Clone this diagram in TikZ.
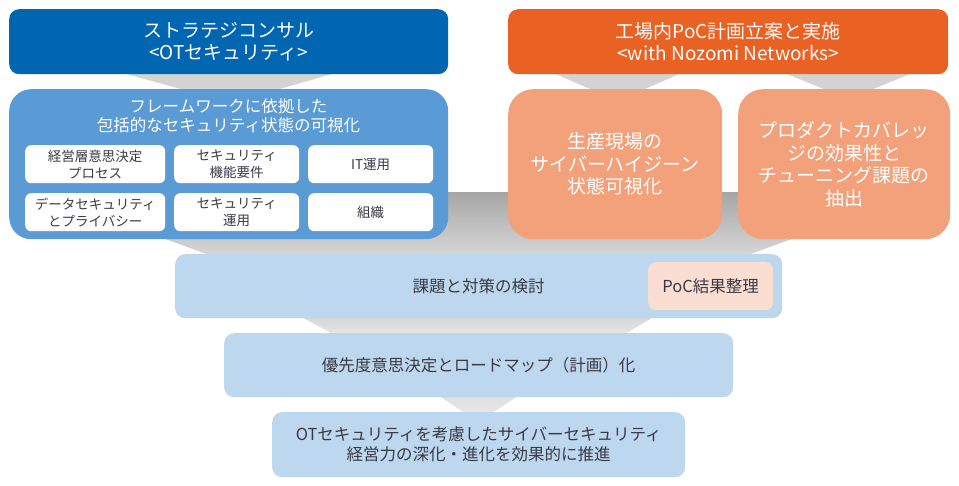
\documentclass[tikz,border=0pt]{standalone}
\usepackage{fontspec}
\setmainfont{Noto Sans CJK JP}
\definecolor{dblue}{RGB}{0,102,178}
\definecolor{hdorange}{RGB}{233,97,35}
\definecolor{mblue}{RGB}{91,155,213}
\definecolor{lorange}{RGB}{243,161,122}
\definecolor{lblue}{RGB}{189,215,238}
\definecolor{peach}{RGB}{250,222,210}
\definecolor{txtdark}{RGB}{58,58,70}
\definecolor{conn}{RGB}{211,211,211}
\begin{document}
\begin{tikzpicture}[x=1pt,y=-1pt,
  box/.style={rectangle, anchor=north west, inner sep=0pt, align=center},
  hdr/.style={box, rounded corners=10pt, text=white, font=\fontsize{19}{22}\selectfont},
  wbox/.style={box, fill=white, rounded corners=6pt, text=txtdark, font=\fontsize{13.5}{17}\selectfont},
  obox/.style={box, fill=lorange, rounded corners=25pt, text=white, font=\fontsize{19}{22.5}\selectfont},
  lbox/.style={box, fill=lblue, rounded corners=10pt, text=txtdark, font=\fontsize{16.5}{20}\selectfont}]
\useasboundingbox (0,0) rectangle (959,485);
% connectors from headers
\fill[conn] (119,72) -- (339,72) -- (269,92) -- (192,92) -- cycle;
\fill[conn] (551,72) -- (684,72) -- (638,92) -- (597,92) -- cycle;
\fill[conn] (782,72) -- (915,72) -- (866,92) -- (831,92) -- cycle;
% funnels
\shade[top color=black!35, bottom color=black!15] (38,192) -- (919,192) -- (740,258) -- (217,258) -- cycle;
\shade[top color=black!16, bottom color=black!9] (300,316) -- (655,316) -- (622,336) -- (336,336) -- cycle;
\shade[top color=black!13, bottom color=black!9] (438,395) -- (519,395) -- (491,414) -- (466,414) -- cycle;
% headers
\node[hdr, fill=dblue, minimum width=439pt, minimum height=65pt] (strat) at (9,9) {ストラテジコンサル\\<OTセキュリティ>};
\node[hdr, fill=hdorange, minimum width=440pt, minimum height=65pt] (plan) at (508,9) {工場内PoC計画立案と実施\\<with Nozomi Networks>};
% framework box
\node[box, fill=mblue, rounded corners=22pt, minimum width=439pt, minimum height=150pt] (fw) at (9,89) {};
\node[text=white, align=center, inner sep=0pt, font=\fontsize{16.5}{19.5}\selectfont] (fwt) at (228.5,115.5) {フレームワークに依拠した\\包括的なセキュリティ状態の可視化};
\node[wbox, minimum width=140pt, minimum height=38pt] (w1) at (25,145) {経営層意思決定\\プロセス};
\node[wbox, minimum width=125pt, minimum height=38pt] (w2) at (174,145) {セキュリティ\\機能要件};
\node[wbox, minimum width=125pt, minimum height=38pt] (w3) at (308,145) {IT運用};
\node[wbox, minimum width=140pt, minimum height=38pt] (w4) at (25,193) {データセキュリティ\\とプライバシー};
\node[wbox, minimum width=125pt, minimum height=38pt] (w5) at (174,193) {セキュリティ\\運用};
\node[wbox, minimum width=125pt, minimum height=38pt] (w6) at (308,193) {組織};
% orange boxes
\node[obox, minimum width=214pt, minimum height=150pt] (o1) at (508,89) {生産現場の\\サイバーハイジーン\\状態可視化};
\node[obox, minimum width=212pt, minimum height=150pt] (o2) at (738,89) {プロダクトカバレッ\\ジの効果性と\\チューニング課題の\\抽出};
% lower boxes
\node[lbox, minimum width=607pt, minimum height=64pt] (b3) at (175,254) {課題と対策の検討};
\node[box, fill=peach, rounded corners=8pt, minimum width=125pt, minimum height=48pt, text=txtdark, font=\fontsize{16.5}{20}\selectfont] (pr) at (648,262) {PoC結果整理};
\node[lbox, minimum width=509pt, minimum height=64pt] (b4) at (224,333) {優先度意思決定とロードマップ（計画）化};
\node[lbox, minimum width=413pt, minimum height=65pt] (b5) at (272,412) {OTセキュリティを考慮したサイバーセキュリティ\\経営力の深化・進化を効果的に推進};
\end{tikzpicture}
\end{document}
